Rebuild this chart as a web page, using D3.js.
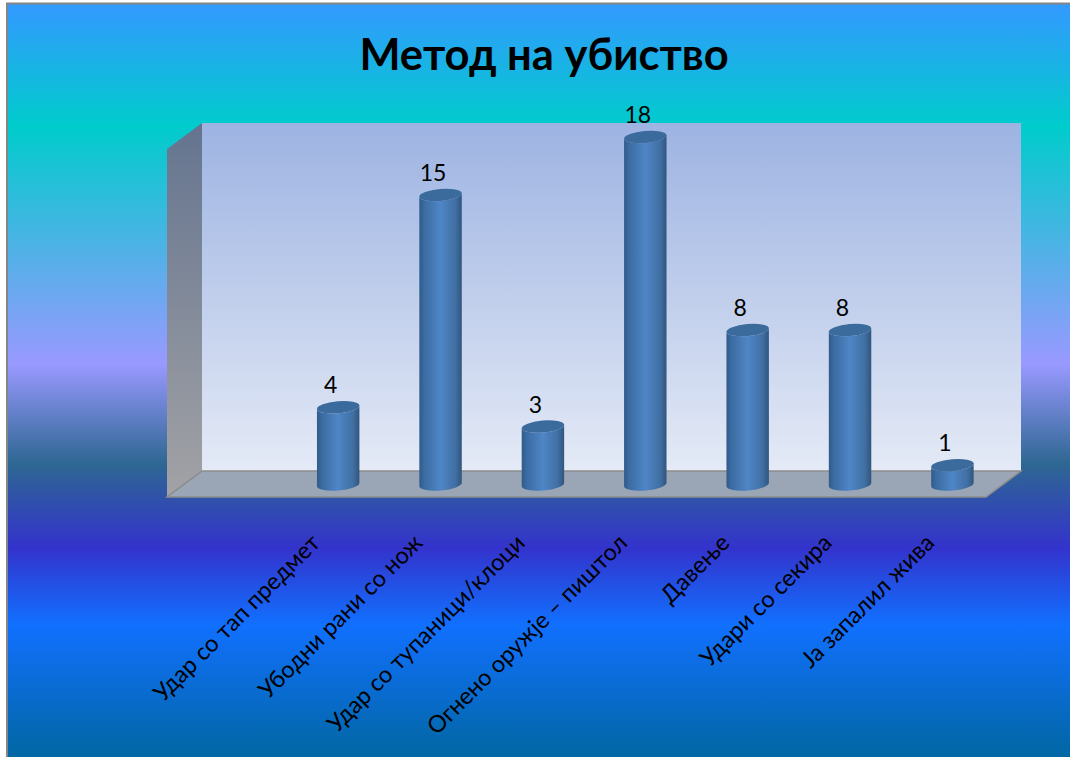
<!DOCTYPE html>
<html>
<head>
<meta charset="utf-8">
<script src="https://cdn.jsdelivr.net/npm/d3@7"></script>
<style>
  html, body { margin: 0; padding: 0; background: #fff; }
  svg { display: block; }
  text { font-family: Lato, "Open Sans", sans-serif; fill: #000; }
</style>
</head>
<body>
<div id="chart"></div>
<script>
var chartTitle = "Метод на убиство";
var categories = ["Удар со тап предмет", "Убодни рани со нож", "Удар со тупаници/клоци",
  "Огнено оружје – пиштол", "Давење", "Удари со секира", "Ја запалил жива"];
var values = [4, 15, 3, 18, 8, 8, 1];

var width = 1070;
var height = 757;

// 3d box of the plot area
var wallLeft = 202, wallRight = 1021, wallTop = 123, wallBottom = 471;
var depthX = 35, depthY = 26;

var rx = 21.3;
var ry = 6;
var tilt = -5;

var svg = d3.select("#chart").append("svg")
  .attr("width", width)
  .attr("height", height);

var defs = svg.append("defs");

function gradient(id, stops, horizontal) {
  var g = defs.append("linearGradient").attr("id", id)
    .attr("x1", 0).attr("y1", 0)
    .attr("x2", horizontal ? 1 : 0).attr("y2", horizontal ? 0 : 1);
  stops.forEach(function(s) {
    g.append("stop").attr("offset", s[0]).attr("stop-color", s[1]);
  });
}

gradient("bg", [[0, "#3399ff"], [0.16, "#00cccc"], [0.47, "#9999ff"], [0.6, "#2e6792"],
  [0.71, "#3333cc"], [0.81, "#1170ff"], [1, "#006699"]]);
gradient("backWall", [[0, "#9db3e2"], [1, "#e4eaf6"]]);
gradient("sideWall", [[0, "#64748f"], [1, "#a3a3a6"]]);
gradient("barBody", [[0, "#305a8a"], [0.12, "#3b6ca2"], [0.5, "#4f86c6"], [0.85, "#406fa3"], [1, "#31557d"]], true);

svg.append("rect")
  .attr("x", 7).attr("y", 3.5)
  .attr("width", width + 10).attr("height", height + 10)
  .attr("fill", "url(#bg)")
  .attr("stroke", "#858585")
  .attr("stroke-width", 2);

svg.append("text")
  .attr("x", 544).attr("y", 70)
  .attr("text-anchor", "middle")
  .attr("font-size", 43.5)
  .attr("font-weight", 700)
  .text(chartTitle);

// walls
svg.append("rect")
  .attr("x", wallLeft).attr("y", wallTop)
  .attr("width", wallRight - wallLeft).attr("height", wallBottom - wallTop)
  .attr("fill", "url(#backWall)");

svg.append("path")
  .attr("d", d3.line()([[wallLeft, wallTop], [wallLeft - depthX, wallTop + depthY],
    [wallLeft - depthX, wallBottom + depthY], [wallLeft, wallBottom]]) + "Z")
  .attr("fill", "url(#sideWall)");

svg.append("path")
  .attr("d", d3.line()([[wallLeft, wallBottom], [wallRight, wallBottom],
    [wallRight - depthX, wallBottom + depthY], [wallLeft - depthX, wallBottom + depthY]]) + "Z")
  .attr("fill", "#9aa5b5")
  .attr("stroke", "#8c8c8c")
  .attr("stroke-width", 1.5);

var xScale = d3.scaleBand()
  .domain(categories)
  .range([287, 1003.6]);

var yScale = d3.scaleLinear()
  .domain([0, 18])
  .range([484.5, 137]);

function barPath(d) {
  var dx = rx * Math.cos(tilt * Math.PI / 180);
  var dy = rx * Math.sin(tilt * Math.PI / 180);
  var top = yScale(d.value);
  var base = yScale(0);
  return "M" + (-dx) + "," + (top - dy) +
    "L" + (-dx) + "," + (base - dy) +
    "A" + rx + "," + ry + " " + tilt + " 0 0 " + dx + "," + (base + dy) +
    "L" + dx + "," + (top + dy) +
    "A" + rx + "," + ry + " " + tilt + " 0 1 " + (-dx) + "," + (top - dy) + "Z";
}

var data = categories.map(function(c, i) {
  return { name: c, value: values[i] };
});

var bars = svg.selectAll("g.bar").data(data).enter().append("g")
  .attr("class", "bar")
  .attr("transform", function(d) {
    return "translate(" + (xScale(d.name) + xScale.bandwidth() / 2) + ",0)";
  });

bars.append("path")
  .attr("d", barPath)
  .attr("fill", "url(#barBody)");

bars.append("ellipse")
  .attr("rx", rx).attr("ry", ry)
  .attr("transform", function(d) {
    return "translate(0," + yScale(d.value) + ")rotate(" + tilt + ")";
  })
  .attr("fill", "#3b6a9c");

bars.append("text")
  .attr("x", -7.5)
  .attr("y", function(d) { return yScale(d.value) - 14; })
  .attr("text-anchor", "middle")
  .attr("font-size", 23)
  .text(function(d) { return d.value; });

// category labels
var xAxis = d3.axisBottom(xScale).tickSize(0).tickPadding(0);

var axisG = svg.append("g")
  .attr("class", "xAxis")
  .attr("transform", "translate(-30,531)")
  .call(xAxis);

axisG.select(".domain").remove();
axisG.selectAll("text")
  .attr("font-family", null)
  .attr("font-size", 23.5)
  .attr("fill", "#000")
  .attr("text-anchor", "end")
  .attr("dy", "0.8em")
  .attr("transform", "rotate(-45)");
</script>
</body>
</html>
